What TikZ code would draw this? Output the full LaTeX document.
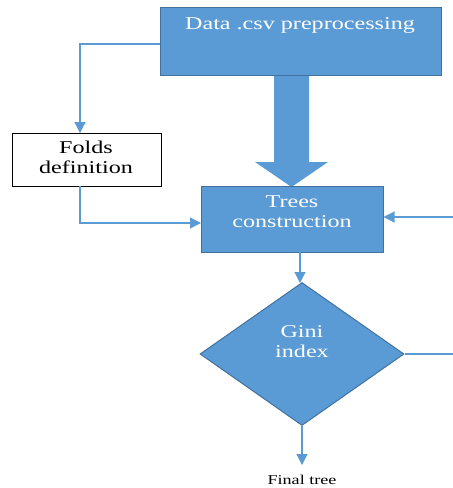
\documentclass[tikz,border=0pt]{standalone}
\usepackage{fontspec}
\setmainfont{Liberation Serif}
\newfontfamily\dfont[FakeStretch=1.34]{Liberation Serif}
\usetikzlibrary{shapes.geometric,arrows.meta}
\definecolor{boxfill}{HTML}{5B9BD5}
\definecolor{boxline}{HTML}{41719C}
\definecolor{connline}{HTML}{5B9BD5}
\tikzset{
  bluebox/.style={draw=boxline, fill=boxfill, line width=1pt, rectangle, inner sep=0pt},
  whitebox/.style={draw=black, fill=white, line width=1pt, rectangle, inner sep=0pt},
  lbl/.style={font=\dfont\fontsize{18}{20}\selectfont, align=center, inner sep=0pt, anchor=base},
  conn/.style={draw=connline, line width=1.2pt, -{Triangle[length=11pt,width=11pt]}},
  plainconn/.style={draw=connline, line width=1.2pt},
}
\begin{document}
\begin{tikzpicture}[x=1pt,y=-1pt]
\useasboundingbox (0,0) rectangle (453,488);
% big arrow
\fill[boxfill] (274,75) -- (309,75) -- (309,162) -- (328,162) -- (291.5,187) -- (255,162) -- (274,162) -- cycle;
% boxes
\node[bluebox, minimum width=281pt, minimum height=68pt] (top) at (300.5,41) {};
\node[whitebox, minimum width=149pt, minimum height=53pt] (folds) at (86.5,159.5) {};
\node[bluebox, minimum width=182pt, minimum height=66pt] (trees) at (292,219) {};
\node[diamond, draw=boxline, fill=boxfill, line width=1pt, inner sep=0pt, minimum width=204pt, minimum height=143pt] (gini) at (302,354) {};
% texts (anchor base = baseline of last line)
\node[lbl, text=white] (toptext) at (300,29) {Data .csv preprocessing};
\node[lbl, text=black] (foldstext) at (86,173) {Folds\\definition};
\node[lbl, text=white] (treestext) at (292,227) {Trees\\construction};
\node[lbl, text=white] (ginitext) at (302,357) {Gini\\index};
\node[font=\dfont\fontsize{13.5}{15}\selectfont, inner sep=0pt, anchor=base] (final) at (302,484) {Final tree};
% coordinates
\coordinate (a1) at (160,44);
\coordinate (a2) at (80,133);
\coordinate (b1) at (80,186);
\coordinate (b2) at (201,223);
\coordinate (rin) at (453,217);
\coordinate (rout) at (453,354);
\coordinate (c1) at (300,252);
\coordinate (c2) at (300,283);
\coordinate (d2) at (302,465);
% connectors
\draw[conn] (a1) -| (a2);
\draw[conn] (b1) |- (b2);
\draw[conn] (rin) -- (rin -| trees.east);
\draw[plainconn] (gini.east) -- (rout);
\draw[conn] (c1) -- (c2);
\draw[conn] (gini.south) -- (d2);
\end{tikzpicture}
\end{document}
